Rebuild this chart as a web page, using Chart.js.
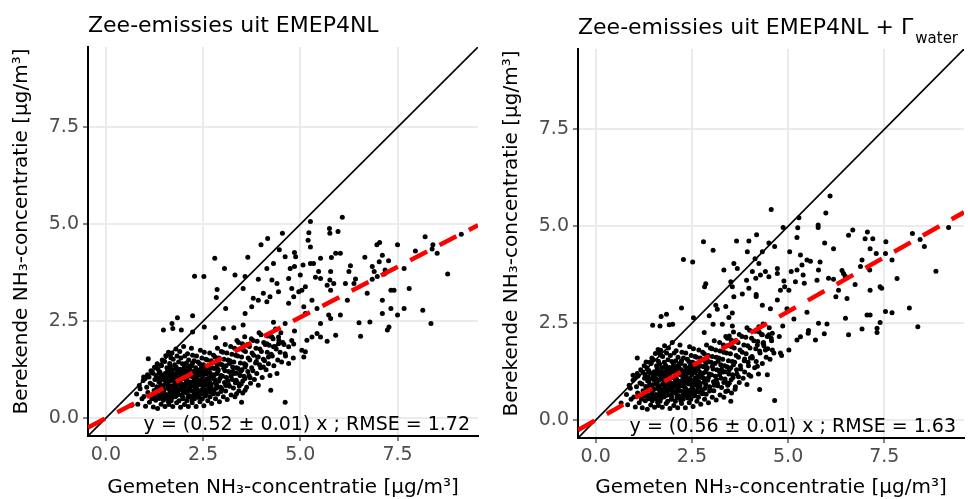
<!DOCTYPE html>
<html>
<head>
<meta charset="utf-8">
<title>Zee-emissies NH3 scatter</title>
<script src="https://cdn.jsdelivr.net/npm/chart.js@4.4.1/dist/chart.umd.min.js"></script>
<style>
  html, body { margin: 0; padding: 0; background: #fff; }
  #wrap  { position: relative; width: 968px; height: 499px; }
  .panel { position: absolute; top: 0; width: 484px; height: 499px; }
  #p1 { left: 0; }
  #p2 { left: 484px; }
</style>
</head>
<body>
<div id="wrap">
  <div class="panel" id="p1"><canvas id="c1" width="484" height="499"></canvas></div>
  <div class="panel" id="p2"><canvas id="c2" width="484" height="499"></canvas></div>
</div>
<script>
/* ── Data ── */
const TICKS    = [0, 2.5, 5, 7.5];
const AXIS_MIN = -0.46;
const AXIS_MAX = 9.57;

const TITLES     = ['Zee-emissies uit EMEP4NL', 'Zee-emissies uit EMEP4NL + Γ'];
const TITLE_SUBS = ['', 'water'];
const X_TITLE    = 'Gemeten NH₃-concentratie [µg/m³]';
const Y_TITLE    = 'Berekende NH₃-concentratie [µg/m³]';
const SLOPES     = [0.52, 0.56];
const FIT_TEXT   = ['y = (0.52 ± 0.01) x ; RMSE = 1.72', 'y = (0.56 ± 0.01) x ; RMSE = 1.63'];

/* left panel: dense cloud, its core, and scattered points [gemeten, berekend] */
const emepCluster = [
  [0.82,0.36],[0.79,0.62],[0.86,0.84],[0.93,0.5],[0.88,0.76],[0.96,0.97],
  [1.02,0.31],[0.98,0.56],[1.05,0.8],[1.01,1.02],[1.07,1.12],[1.12,0.41],[1.08,0.66],[1.14,0.9],[1.11,1.06],[1.16,1.22],
  [1.22,0.29],[1.18,0.5],[1.24,0.71],[1.2,0.86],[1.26,1.0],[1.21,1.16],[1.25,1.31],
  [1.33,0.25],[1.28,0.46],[1.35,0.6],[1.31,0.81],[1.36,0.94],[1.29,1.1],[1.34,1.26],[1.32,1.4],
  [1.42,0.36],[1.38,0.51],[1.44,0.7],[1.41,0.85],[1.46,1.01],[1.39,1.19],[1.43,1.36],[1.45,1.5],
  [1.52,0.3],[1.48,0.46],[1.55,0.61],[1.5,0.74],[1.56,0.9],[1.49,1.04],[1.53,1.16],[1.57,1.3],[1.51,1.46],[1.54,1.61],
  [1.62,0.35],[1.58,0.51],[1.65,0.65],[1.6,0.8],[1.66,0.96],[1.63,1.09],[1.59,1.24],[1.64,1.41],[1.67,1.56],[1.61,1.7],
  [1.72,0.3],[1.68,0.45],[1.75,0.6],[1.7,0.72],[1.76,0.86],[1.69,1.0],[1.74,1.13],[1.71,1.25],[1.77,1.38],[1.73,1.52],[1.7,1.68],
  [1.82,0.4],[1.78,0.55],[1.85,0.67],[1.8,0.81],[1.86,0.92],[1.79,1.05],[1.84,1.18],[1.81,1.31],[1.87,1.45],[1.83,1.6],[1.8,1.78],
  [1.92,0.28],[1.88,0.45],[1.95,0.6],[1.9,0.75],[1.96,0.88],[1.89,1.0],[1.94,1.12],[1.91,1.26],[1.97,1.4],[1.93,1.55],[1.9,1.72],
  [2.02,0.35],[1.98,0.5],[2.05,0.66],[2.0,0.78],[2.06,0.9],[1.99,1.02],[2.04,1.16],[2.01,1.28],[2.07,1.42],[2.03,1.6],[2.0,1.85],
  [2.12,0.3],[2.08,0.45],[2.15,0.58],[2.1,0.71],[2.16,0.85],[2.09,0.98],[2.14,1.1],[2.11,1.22],[2.17,1.35],[2.13,1.5],[2.1,1.66],
  [2.22,0.4],[2.18,0.55],[2.25,0.68],[2.2,0.82],[2.26,0.95],[2.19,1.08],[2.24,1.2],[2.21,1.35],[2.27,1.48],[2.23,1.62],[2.2,1.8],
  [2.32,0.3],[2.28,0.5],[2.35,0.65],[2.3,0.78],[2.36,0.9],[2.29,1.05],[2.34,1.18],[2.31,1.3],[2.37,1.45],[2.33,1.6],
  [2.42,0.42],[2.38,0.58],[2.45,0.72],[2.4,0.86],[2.46,1.0],[2.39,1.12],[2.44,1.25],[2.41,1.4],[2.47,1.55],[2.43,1.75],
  [2.52,0.32],[2.48,0.5],[2.55,0.65],[2.5,0.8],[2.56,0.95],[2.49,1.08],[2.54,1.22],[2.51,1.38],[2.57,1.52],[2.53,1.7],
  [2.62,0.45],[2.58,0.62],[2.65,0.78],[2.6,0.92],[2.66,1.05],[2.59,1.2],[2.64,1.35],[2.61,1.5],[2.67,1.68],
  [2.72,0.38],[2.68,0.55],[2.75,0.72],[2.7,0.88],[2.76,1.02],[2.69,1.15],[2.74,1.3],[2.71,1.48],[2.77,1.62],
  [2.82,0.5],[2.78,0.68],[2.85,0.85],[2.8,1.0],[2.86,1.15],[2.79,1.28],[2.84,1.42],[2.81,1.58],[2.87,1.8],
  [2.92,0.42],[2.88,0.62],[2.95,0.8],[2.9,0.95],[2.96,1.1],[2.89,1.25],[2.94,1.4],[2.91,1.55],[2.97,1.72],
  [3.02,0.55],[2.98,0.75],[3.05,0.92],[3.0,1.08],[3.06,1.22],[2.99,1.38],[3.04,1.52],[3.01,1.7],[3.07,1.9],
  [3.12,0.48],[3.08,0.7],[3.15,0.88],[3.1,1.05],[3.16,1.2],[3.09,1.35],[3.14,1.5],[3.11,1.68],
  [3.22,0.6],[3.18,0.82],[3.25,1.0],[3.2,1.18],[3.26,1.32],[3.19,1.48],[3.24,1.65],[3.21,1.85],
  [3.32,0.55],[3.28,0.78],[3.35,0.98],[3.3,1.15],[3.36,1.3],[3.29,1.45],[3.34,1.62],[3.31,1.8],[3.37,2.0],
  [3.42,0.7],[3.38,0.92],[3.45,1.1],[3.4,1.28],[3.46,1.42],[3.39,1.6],[3.44,1.78],[3.41,1.95],
  [3.52,0.65],[3.48,0.88],[3.55,1.08],[3.5,1.25],[3.56,1.4],[3.49,1.58],[3.54,1.75],[3.51,1.92],[3.57,2.1],
  [3.62,0.8],[3.58,1.02],[3.65,1.2],[3.6,1.38],[3.66,1.55],[3.59,1.72],[3.64,1.9],
  [3.72,0.9],[3.68,1.1],[3.75,1.3],[3.7,1.5],[3.76,1.68],[3.69,1.85],[3.74,2.05],
  [3.82,1.0],[3.78,1.22],[3.85,1.42],[3.8,1.62],[3.86,1.8],[3.79,2.0],
  [3.92,0.85],[3.88,1.15],[3.95,1.38],[3.9,1.58],[3.96,1.78],[3.89,1.98],[3.94,2.2],
  [4.02,1.05],[3.98,1.3],[4.05,1.52],[4.0,1.72],[4.06,1.95],[3.99,2.15],
  [4.12,1.25],[4.08,1.48],[4.15,1.7],[4.1,1.9],[4.16,2.12],
  [4.22,1.1],[4.18,1.4],[4.25,1.65],[4.2,1.88],[4.26,2.1],
  [4.32,1.35],[4.28,1.6],[4.35,1.85],[4.3,2.05],[4.36,2.3],
  [4.42,1.5],[4.38,1.78],[4.45,2.0],
  [4.52,1.45],[4.48,1.7],[4.55,1.95],[4.5,2.2],
  [4.62,1.6],[4.58,1.9],
  [4.82,1.55],[4.78,2.0],[4.85,2.25]
];
const emepCore = [
  [1.27,0.57],[1.46,0.63],[1.61,0.42],[1.83,0.73],[1.97,0.56],[2.14,0.77],[2.31,0.61],[2.48,0.88],[1.38,0.93],
  [1.54,1.08],[1.77,0.95],[1.88,1.21],[2.06,1.03],[2.27,1.12],[2.44,0.69],[2.63,0.98],[2.79,1.12],[1.33,0.74],
  [1.59,0.87],[1.72,1.15],[1.93,0.84],[2.18,0.93],[2.37,0.99],[2.58,1.14],[2.71,0.81],[2.93,1.02],[1.43,1.12],
  [1.66,1.33],[1.84,1.02],[2.02,1.34],[2.23,1.42],[2.46,1.31],[2.66,1.24],[2.86,1.33],[1.52,0.53],[1.74,0.66],
  [1.99,0.69],[2.21,0.47],[2.39,0.53],[2.56,0.57],[2.77,0.63],[1.24,0.62],[1.41,0.78],[1.63,0.74],[1.81,0.58],
  [2.09,0.64],[2.29,0.87],[2.52,0.74],[2.69,0.67],[2.96,0.69],[1.36,1.04],[1.58,0.98],[1.79,1.27],[1.96,1.17],
  [2.16,1.27],[2.34,1.04],[2.59,1.01],[2.81,0.91],[3.03,1.29],[3.14,0.97],[3.27,1.21],[3.43,0.83],[3.58,1.32],
  [3.71,1.04],[3.87,1.46],[1.48,0.84],[1.69,0.52],[1.91,0.93],[2.12,1.16],[2.41,1.19],[2.62,0.83],[2.88,1.21],
  [3.18,1.41],[3.36,1.16],[3.52,0.96],
  [1.31,0.68],[1.49,0.72],[1.57,0.59],[1.67,0.83],[1.78,0.77],[1.86,0.61],[1.94,0.74],[2.04,0.83],[2.11,0.54],
  [2.19,0.71],[2.26,0.58],[2.34,0.76],[2.43,0.93],[2.54,0.86],[2.67,0.93],[2.74,1.07],[1.37,1.17],[1.51,0.97],
  [1.62,1.18],[1.71,1.08],[1.82,1.13],[1.92,1.05],[2.03,1.21],[2.13,1.31],[2.24,1.07],[2.36,1.24],[2.49,1.16],
  [2.57,1.29],[1.44,0.57],[1.66,0.58],[1.87,0.88],[2.07,0.97],[2.28,0.99],[2.47,0.62],[2.61,0.71],[2.84,0.77],
  [3.08,0.84],[3.22,1.09],[3.33,0.91],[3.47,1.21]
];
const emepSparse = [
  [2.80,4.12],[3.05,3.86],[2.28,3.66],[2.52,3.65],[2.86,3.32],[2.84,3.11],[3.08,2.83],[1.84,2.59],[2.23,2.64],
  [1.70,2.44],[1.48,2.27],[1.72,2.31],[1.94,2.27],[2.23,2.22],[2.53,2.35],[2.82,2.08],[3.02,2.31],[1.09,1.53],
  [0.97,1.06],[0.66,0.33],[1.66,1.66],[1.42,1.36],[3.29,2.33],
  [6.08,5.18],[5.26,5.07],[5.75,4.89],[5.76,4.77],[5.97,4.81],[4.54,4.77],[5.22,4.78],[4.16,4.63],[5.20,4.59],
  [3.99,4.47],[6.97,4.47],[7.04,4.53],[7.50,4.47],[8.21,4.68],[9.14,4.74],[8.41,4.47],[8.39,4.36],[4.46,4.34],
  [4.85,4.27],[5.26,4.41],[6.03,4.25],[5.91,4.25],[5.80,4.14],[4.61,4.16],[3.65,4.15],[4.88,4.16],[6.66,4.15],
  [7.11,4.20],[7.03,4.03],[7.27,4.06],[7.96,4.31],[8.52,4.25],[4.31,3.99],[4.14,3.86],[5.26,3.99],[5.34,3.99],
  [5.52,4.12],[5.47,3.78],[5.78,3.78],[4.74,3.86],[4.85,3.91],[5.07,3.95],[6.29,3.93],[6.25,3.78],[6.85,3.91],
  [6.90,3.78],[7.18,3.82],[7.67,3.86],[3.58,3.65],[3.32,3.69],[3.92,3.58],[4.27,3.56],[4.70,3.60],[5.00,3.69],
  [5.39,3.63],[5.52,3.60],[5.76,3.56],[5.69,3.43],[5.86,3.47],[6.16,3.47],[6.42,3.59],[6.38,3.47],[6.85,3.58],
  [6.98,3.65],[7.16,3.72],[7.41,3.30],[7.80,3.34],[8.79,3.72],[4.40,3.47],[5.13,3.39],[5.04,3.30],[4.78,3.34],
  [3.53,3.34],[4.05,3.22],[4.22,3.13],[4.44,3.26],[4.83,3.13],[4.96,3.26],[5.78,3.30],[6.72,3.22],[7.11,3.04],
  [7.33,3.30],[3.79,3.09],[3.92,3.04],[4.70,2.96],[5.30,3.04],[3.75,2.87],[3.58,2.70],[4.14,3.00],[5.09,2.87],
  [5.43,2.83],[5.73,2.66],[5.13,2.70],[6.21,3.04],[7.11,2.70],[7.33,2.83],[7.67,2.83],[8.15,2.78],[7.50,2.66],
  [6.03,2.66],[3.53,2.40],[4.31,2.47],[4.61,2.44],[5.78,2.57],[6.51,2.46],[6.79,2.48],[7.28,2.35],[7.24,2.27],
  [8.36,2.44],[5.52,2.44],[5.69,1.98],[5.43,2.18],[5.30,2.09],[5.52,2.09],[6.55,2.11],[5.91,2.14],[5.17,2.01],
  [4.83,1.91],[5.04,1.75],[5.13,1.71],[5.09,1.58],[4.44,2.09],[4.27,2.09],[4.44,1.92],[4.70,1.84],[4.61,1.66],
  [4.70,1.41],[4.40,1.15],[4.24,0.72],[4.61,0.41],[4.05,1.32],[3.92,1.58],[4.18,1.58],[4.31,1.84],[4.14,1.92],
  [3.58,0.72],[3.49,0.41],[3.36,0.63]
];

/* right panel: with Γwater */
const gammaCluster = [
  [0.83,0.4],[0.8,0.66],[0.87,0.9],[0.92,0.54],[0.9,0.82],[0.97,1.03],
  [1.03,0.34],[0.99,0.6],[1.06,0.86],[1.02,1.08],[1.08,1.2],[1.13,0.45],[1.09,0.7],[1.15,0.96],[1.1,1.14],[1.17,1.3],
  [1.21,0.32],[1.19,0.54],[1.23,0.76],[1.2,0.93],[1.27,1.08],[1.22,1.24],[1.26,1.4],
  [1.34,0.28],[1.29,0.5],[1.36,0.65],[1.3,0.87],[1.35,1.01],[1.28,1.18],[1.33,1.35],[1.31,1.5],
  [1.43,0.39],[1.37,0.55],[1.45,0.76],[1.4,0.92],[1.47,1.08],[1.38,1.28],[1.44,1.46],[1.46,1.6],
  [1.53,0.33],[1.47,0.5],[1.56,0.66],[1.51,0.8],[1.57,0.97],[1.5,1.12],[1.52,1.25],[1.58,1.4],[1.5,1.56],[1.55,1.72],
  [1.63,0.38],[1.57,0.55],[1.66,0.7],[1.61,0.86],[1.65,1.03],[1.64,1.18],[1.6,1.34],[1.63,1.52],[1.68,1.68],[1.62,1.82],
  [1.73,0.33],[1.67,0.49],[1.76,0.65],[1.71,0.78],[1.75,0.93],[1.7,1.08],[1.73,1.22],[1.72,1.35],[1.78,1.49],[1.74,1.64],[1.69,1.8],
  [1.83,0.43],[1.77,0.6],[1.86,0.72],[1.81,0.87],[1.85,0.99],[1.8,1.13],[1.83,1.27],[1.82,1.41],[1.88,1.56],[1.84,1.73],[1.79,1.92],
  [1.93,0.3],[1.87,0.49],[1.96,0.65],[1.91,0.81],[1.95,0.95],[1.9,1.08],[1.93,1.21],[1.92,1.36],[1.98,1.51],[1.94,1.67],[1.89,1.86],
  [2.03,0.38],[1.97,0.54],[2.06,0.71],[2.01,0.84],[2.05,0.97],[2.0,1.1],[2.03,1.25],[2.02,1.38],[2.08,1.53],[2.04,1.73],[1.99,2.0],
  [2.13,0.32],[2.07,0.49],[2.16,0.63],[2.11,0.77],[2.15,0.92],[2.1,1.06],[2.13,1.19],[2.12,1.32],[2.18,1.46],[2.14,1.62],[2.09,1.79],
  [2.23,0.43],[2.17,0.59],[2.26,0.73],[2.21,0.89],[2.25,1.03],[2.2,1.17],[2.23,1.3],[2.22,1.46],[2.28,1.6],[2.24,1.75],[2.19,1.94],
  [2.33,0.32],[2.27,0.54],[2.36,0.7],[2.31,0.84],[2.35,0.97],[2.3,1.13],[2.33,1.27],[2.32,1.4],[2.38,1.57],[2.34,1.73],
  [2.43,0.45],[2.37,0.63],[2.46,0.78],[2.41,0.93],[2.45,1.08],[2.4,1.21],[2.43,1.35],[2.42,1.51],[2.48,1.67],[2.44,1.89],
  [2.53,0.35],[2.47,0.54],[2.56,0.7],[2.51,0.86],[2.55,1.03],[2.5,1.17],[2.53,1.32],[2.52,1.49],[2.58,1.64],[2.54,1.84],
  [2.63,0.49],[2.57,0.67],[2.66,0.84],[2.61,0.99],[2.65,1.13],[2.6,1.3],[2.63,1.46],[2.62,1.62],[2.68,1.81],
  [2.73,0.41],[2.67,0.59],[2.76,0.78],[2.71,0.95],[2.75,1.1],[2.7,1.24],[2.73,1.4],[2.72,1.6],[2.78,1.75],
  [2.83,0.54],[2.77,0.73],[2.86,0.92],[2.81,1.08],[2.85,1.24],[2.8,1.38],[2.83,1.53],[2.82,1.71],[2.88,1.94],
  [2.93,0.45],[2.87,0.67],[2.96,0.86],[2.91,1.03],[2.95,1.19],[2.9,1.35],[2.93,1.51],[2.92,1.67],[2.98,1.86],
  [3.03,0.59],[2.97,0.81],[3.06,0.99],[3.01,1.17],[3.05,1.32],[3.0,1.49],[3.03,1.64],[3.02,1.84],[3.08,2.05],
  [3.13,0.52],[3.07,0.76],[3.16,0.95],[3.11,1.13],[3.15,1.3],[3.1,1.46],[3.13,1.62],[3.12,1.81],
  [3.23,0.65],[3.17,0.89],[3.26,1.08],[3.21,1.27],[3.25,1.43],[3.2,1.6],[3.23,1.78],[3.22,2.0],
  [3.33,0.59],[3.27,0.84],[3.36,1.06],[3.31,1.24],[3.35,1.4],[3.3,1.57],[3.33,1.75],[3.32,1.94],[3.38,2.16],
  [3.43,0.76],[3.37,0.99],[3.46,1.19],[3.41,1.38],[3.45,1.53],[3.4,1.73],[3.43,1.92],[3.42,2.11],
  [3.53,0.7],[3.47,0.95],[3.56,1.17],[3.51,1.35],[3.55,1.51],[3.5,1.71],[3.53,1.89],[3.52,2.07],[3.58,2.27],
  [3.63,0.86],[3.57,1.1],[3.66,1.3],[3.61,1.49],[3.65,1.67],[3.6,1.86],[3.63,2.05],
  [3.73,0.97],[3.67,1.19],[3.76,1.4],[3.71,1.62],[3.75,1.81],[3.7,2.0],[3.73,2.21],
  [3.83,1.08],[3.77,1.32],[3.86,1.53],[3.81,1.75],[3.85,1.94],[3.8,2.16],
  [3.93,0.92],[3.87,1.24],[3.96,1.49],[3.91,1.71],[3.95,1.92],[3.9,2.14],[3.93,2.38],
  [4.03,1.13],[3.97,1.4],[4.06,1.64],[4.01,1.86],[4.05,2.11],[4.0,2.32],
  [4.13,1.35],[4.07,1.6],[4.16,1.84],[4.11,2.05],[4.15,2.29],
  [4.23,1.19],[4.17,1.51],[4.26,1.78],[4.21,2.03],[4.25,2.27],
  [4.33,1.46],[4.27,1.73],[4.36,2.0],[4.31,2.21],[4.35,2.48],
  [4.43,1.62],[4.37,1.92],[4.46,2.16],
  [4.53,1.57],[4.47,1.84],[4.56,2.11],[4.51,2.38],
  [4.63,1.73],[4.57,2.05],
  [4.83,1.67],[4.77,2.16],[4.86,2.43]
];
const gammaCore = [
  [1.27,0.62],[1.46,0.68],[1.61,0.46],[1.83,0.79],[1.97,0.61],[2.14,0.84],[2.31,0.66],[2.48,0.95],[1.38,1.01],
  [1.54,1.17],[1.77,1.03],[1.88,1.31],[2.06,1.12],[2.27,1.21],[2.44,0.75],[2.63,1.06],[2.79,1.21],[1.33,0.8],
  [1.59,0.94],[1.72,1.24],[1.93,0.91],[2.18,1.0],[2.37,1.07],[2.58,1.23],[2.71,0.88],[2.93,1.1],[1.43,1.21],
  [1.66,1.44],[1.84,1.1],[2.02,1.45],[2.23,1.53],[2.46,1.41],[2.66,1.34],[2.86,1.44],[1.52,0.57],[1.74,0.71],
  [1.99,0.75],[2.21,0.51],[2.39,0.57],[2.56,0.62],[2.77,0.68],[1.24,0.67],[1.41,0.84],[1.63,0.8],[1.81,0.63],
  [2.09,0.69],[2.29,0.94],[2.52,0.8],[2.69,0.72],[2.96,0.75],[1.36,1.12],[1.58,1.06],[1.79,1.37],[1.96,1.26],
  [2.16,1.37],[2.34,1.12],[2.59,1.09],[2.81,0.98],[3.03,1.39],[3.14,1.05],[3.27,1.31],[3.43,0.9],[3.58,1.43],
  [3.71,1.12],[3.87,1.58],[1.48,0.91],[1.69,0.56],[1.91,1.0],[2.12,1.25],[2.41,1.29],[2.62,0.9],[2.88,1.31],
  [3.18,1.52],[3.36,1.25],[3.52,1.04],
  [1.31,0.73],[1.49,0.77],[1.57,0.63],[1.67,0.89],[1.78,0.82],[1.86,0.65],[1.94,0.79],[2.04,0.89],[2.11,0.58],
  [2.19,0.76],[2.26,0.62],[2.34,0.81],[2.43,1.0],[2.54,0.92],[2.67,1.0],[2.74,1.15],[1.37,1.25],[1.51,1.04],
  [1.62,1.26],[1.71,1.16],[1.82,1.21],[1.92,1.12],[2.03,1.3],[2.13,1.4],[2.24,1.15],[2.36,1.33],[2.49,1.24],
  [2.57,1.38],[1.44,0.61],[1.66,0.62],[1.87,0.94],[2.07,1.04],[2.28,1.06],[2.47,0.66],[2.61,0.76],[2.84,0.82],
  [3.08,0.9],[3.22,1.17],[3.33,0.97],[3.47,1.3]
];
const gammaSparse = [
  [2.80,4.60],[3.05,4.38],[2.28,4.14],[2.52,4.08],[2.86,3.52],[2.83,3.44],[3.12,2.96],[3.16,2.86],[2.23,2.89],
  [1.84,2.73],[1.70,2.67],[1.48,2.45],[1.67,2.43],[1.91,2.46],[2.00,2.47],[2.54,2.64],[2.95,2.69],[3.05,2.47],
  [2.82,2.26],[1.08,1.60],[0.97,1.16],[0.66,0.44],[1.64,1.73],[1.40,1.49],[3.29,2.47],[3.47,2.17],
  [6.09,5.78],[5.98,5.34],[5.28,5.22],[5.25,4.96],[5.78,5.03],[5.78,4.97],[4.56,5.43],[4.87,4.97],[4.18,4.78],
  [5.23,4.71],[3.98,4.62],[4.50,4.57],[3.66,4.62],[5.95,4.57],[6.18,4.42],[5.04,4.34],[4.65,4.48],[4.33,4.34],
  [4.14,4.16],[3.94,4.34],[6.57,4.77],[6.68,4.90],[7.00,4.68],[7.06,4.85],[7.20,4.68],[7.13,4.42],[7.54,4.60],
  [8.23,4.81],[8.54,4.48],[8.43,4.66],[9.17,4.97],[8.84,3.84],[7.83,3.65],[7.70,4.13],[7.53,4.30],[7.29,4.30],
  [6.92,4.13],[6.88,3.96],[7.12,3.87],[7.39,3.44],[6.74,3.50],[7.13,3.35],[7.43,3.40],[6.53,3.14],[6.31,3.35],
  [6.24,3.18],[6.44,3.78],[6.40,3.86],[6.48,3.72],[6.18,3.63],[5.79,3.87],[5.83,4.08],[5.58,4.10],[5.49,4.13],
  [5.32,4.26],[5.36,4.00],[5.23,3.87],[5.08,3.83],[5.39,3.74],[5.42,3.53],[5.75,3.61],[6.05,3.66],[5.19,3.57],
  [5.02,3.35],[4.91,3.44],[4.72,3.78],[4.89,3.59],[4.80,3.35],[4.50,3.70],[4.28,3.74],[4.41,3.83],[4.24,4.04],
  [4.72,3.91],[4.16,3.66],[4.07,3.83],[3.92,3.61],[3.81,3.25],[3.98,3.40],[4.17,3.19],[4.33,2.96],[4.54,2.87],
  [4.72,3.10],[4.97,2.87],[5.15,2.61],[5.49,2.78],[5.79,2.50],[6.01,2.48],[5.53,2.31],[5.52,2.24],[5.71,2.07],
  [5.32,2.15],[5.23,2.07],[5.02,1.81],[5.94,2.23],[6.57,2.20],[6.92,2.35],[7.31,2.37],[7.31,2.26],[7.39,2.52],
  [7.13,2.71],[7.05,2.71],[7.70,2.77],[7.53,2.80],[8.15,2.89],[8.37,2.41],[6.49,2.63],[4.59,2.24],[4.33,2.20],
  [4.50,2.20],[4.24,2.41],[4.35,1.98],[4.41,1.81],[4.59,1.81],[4.80,1.73],[4.46,1.17],[4.26,0.79],[4.65,0.51],
  [3.62,0.80],[3.51,0.49],[3.38,0.74],[3.98,1.17],[4.20,1.39],[4.02,1.60],[4.20,1.94],[3.59,4.04],[3.33,3.87],
  [3.68,3.91],[3.51,3.57],[3.55,3.44],[3.59,3.18],[3.38,2.93],[3.55,2.76],[3.46,2.65],[3.55,2.43],[4.17,3.24]
];

/* ── Layout of each panel (canvas px) ── */
const AREAS = [
  { left: 88, top: 47, right: 6, bottom: 63 },
  { left: 94, top: 49, right: 2, bottom: 61 }
];

const FONT = "'DejaVu Sans', Verdana, sans-serif";

/* ── Titles, axis titles and fit note ── */
const decor = {
  id: 'decor',
  afterDraw(chart, args, o) {
    const c = chart.ctx;
    const a = chart.chartArea;
    c.save();
    c.fillStyle = '#000';

    /* Plot title (left aligned on panel) */
    c.textAlign = 'left';
    c.textBaseline = 'alphabetic';
    c.font = `22px ${FONT}`;
    c.fillText(o.title, a.left, a.top - 15);
    if (o.sub) {
      const w = c.measureText(o.title).width;
      c.font = `15px ${FONT}`;
      c.fillText(o.sub, a.left + w + 2, a.top - 6);
    }

    /* x axis title */
    c.font = `20px ${FONT}`;
    c.textAlign = 'center';
    c.fillText(X_TITLE, (a.left + a.right) / 2, 493);

    /* fit note, bottom right inside panel */
    c.font = `19px ${FONT}`;
    c.textAlign = 'right';
    c.fillText(o.note, a.right - 8, a.bottom - 6);

    /* y axis title */
    c.font = `20px ${FONT}`;
    c.textAlign = 'center';
    c.textBaseline = 'middle';
    c.translate(a.left - 66, (a.top + a.bottom) / 2 - 10);
    c.rotate(-Math.PI / 2);
    c.fillText(Y_TITLE, 0, 0);
    c.restore();
  }
};

function axisOpts(isX, area) {
  return {
    type: 'linear',
    min: AXIS_MIN,
    max: AXIS_MAX,
    afterBuildTicks: s => { s.ticks = TICKS.map(v => ({ value: v })); },
    afterFit: s => {
      if (isX) s.height = area.bottom;
      else s.width = area.left;
    },
    grid:   { color: '#ebebeb', lineWidth: 2, tickColor: '#333', tickWidth: 1.2, tickLength: 5 },
    border: { display: true, color: '#000', width: 2 },
    ticks:  {
      color: '#4d4d4d',
      font: { family: FONT, size: 19 },
      padding: isX ? 3 : 4,
      maxRotation: 0,
      autoSkip: false,
      callback: v => Number(v).toFixed(1)
    },
    title: { display: false }
  };
}

function makeChart(id, i, sets) {
  const area = AREAS[i];
  const pts = [].concat(...sets).map(p => ({ x: p[0], y: p[1] }));
  const ends = [AXIS_MIN, AXIS_MAX];

  return new Chart(document.getElementById(id), {
    type: 'scatter',
    data: {
      datasets: [
        {
          type: 'line',
          label: 'fit',
          data: ends.map(x => ({ x: x, y: SLOPES[i] * x })),
          borderColor: '#ff0000',
          borderWidth: 4.5,
          borderDash: [19, 14],
          pointRadius: 0,
          fill: false,
          order: 0
        },
        {
          type: 'line',
          label: '1:1',
          data: ends.map(x => ({ x: x, y: x })),
          borderColor: '#000',
          borderWidth: 1.6,
          pointRadius: 0,
          fill: false,
          order: 1
        },
        {
          label: 'stations',
          data: pts,
          backgroundColor: '#000',
          borderWidth: 0,
          pointRadius: 2.5,
          order: 2
        }
      ]
    },
    options: {
      responsive: false,
      devicePixelRatio: 1,
      animation: false,
      layout: { padding: { top: area.top, right: area.right, bottom: 0, left: 0 } },
      plugins: {
        legend: { display: false },
        tooltip: { enabled: false },
        decor: { title: TITLES[i], sub: TITLE_SUBS[i], note: FIT_TEXT[i] }
      },
      scales: {
        x: axisOpts(true, area),
        y: axisOpts(false, area)
      }
    },
    plugins: [decor]
  });
}

makeChart('c1', 0, [emepCluster, emepCore, emepSparse]);
makeChart('c2', 1, [gammaCluster, gammaCore, gammaSparse]);
</script>
</body>
</html>
